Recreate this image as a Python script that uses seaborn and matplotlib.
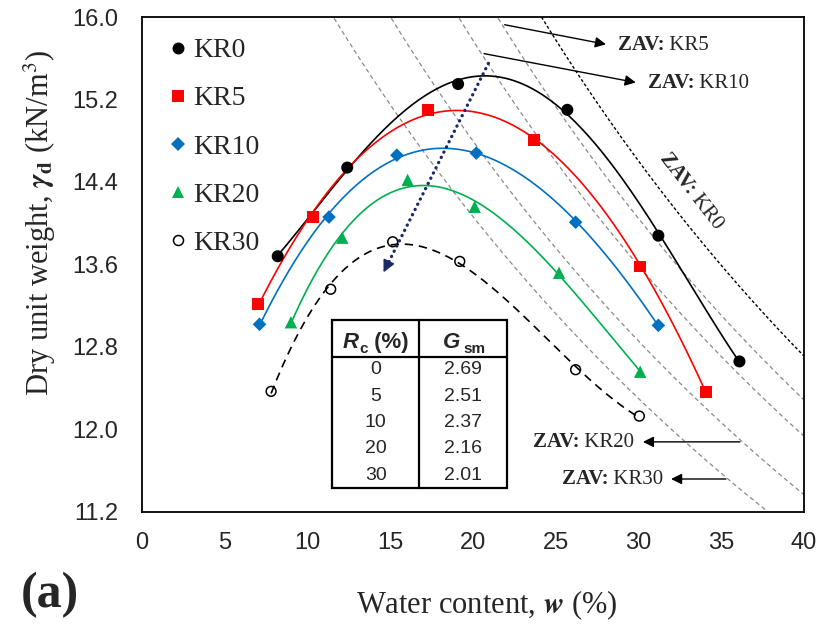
import numpy as np
import pandas as pd
import matplotlib
matplotlib.use("Agg")
import matplotlib.pyplot as plt
import seaborn as sns
from matplotlib.lines import Line2D
from matplotlib.patches import Rectangle
from matplotlib.ticker import MultipleLocator, FormatStrFormatter

# ---------------- data ----------------
series = ["KR0", "KR5", "KR10", "KR20", "KR30"]
w_KR0 = [8.2, 12.4, 19.1, 25.7, 31.2, 36.1]
g_KR0 = [13.68, 14.54, 15.35, 15.10, 13.88, 12.66]
w_KR5 = [7.0, 10.35, 17.3, 23.7, 30.1, 34.1]
g_KR5 = [13.22, 14.06, 15.10, 14.81, 13.58, 12.36]
w_KR10 = [7.1, 11.3, 15.4, 20.2, 26.2, 31.2]
g_KR10 = [13.02, 14.06, 14.66, 14.68, 14.01, 13.01]
w_KR20 = [9.0, 12.1, 16.05, 20.1, 25.2, 30.1]
g_KR20 = [13.04, 13.86, 14.42, 14.16, 13.52, 12.56]
w_KR30 = [7.8, 11.4, 15.15, 19.2, 26.2, 30.05]
g_KR30 = [12.37, 13.36, 13.82, 13.63, 12.58, 12.13]
Rc = [0, 5, 10, 20, 30]
Gsm = [2.69, 2.51, 2.37, 2.16, 2.01]
gamma_w = 9.81
x_ticks = [0, 5, 10, 15, 20, 25, 30, 35, 40]
y_ticks = [11.2, 12.0, 12.8, 13.6, 14.4, 15.2, 16.0]

W = {"KR0": w_KR0, "KR5": w_KR5, "KR10": w_KR10, "KR20": w_KR20, "KR30": w_KR30}
G = {"KR0": g_KR0, "KR5": g_KR5, "KR10": g_KR10, "KR20": g_KR20, "KR30": g_KR30}

# ---------------- styles ----------------
colors = {"KR0": "black", "KR5": "#FF0000", "KR10": "#0070C0", "KR20": "#00B050", "KR30": "black"}
markers = {"KR0": "o", "KR5": "s", "KR10": "D", "KR20": "^", "KR30": "o"}
msize = {"KR0": 75, "KR5": 72, "KR10": 48, "KR20": 80, "KR30": 50}
fit_deg = {"KR0": 4, "KR5": 3, "KR10": 3, "KR20": 3, "KR30": 3}

sns.set_style("white")
plt.rcParams["font.family"] = ["Liberation Sans", "DejaVu Sans"]
plt.rcParams["mathtext.fontset"] = "stix"

fig = plt.figure(figsize=(8.2, 6.27), dpi=100)
ax = fig.add_axes([142 / 820, 1 - 512 / 627, 662 / 820, 495 / 627])

# ZAV lines
wz = np.linspace(0, 45, 400)
for i, gs in enumerate(Gsm):
    gz = gs * gamma_w / (1 + gs * wz / 100)
    if i == 0:
        ax.plot(wz, gz, color="black", lw=1.0, ls=(0, (2.2, 1.6)), zorder=1)
    else:
        ax.plot(wz, gz, color="#8a8a8a", lw=0.9, ls=(0, (3.5, 2.5)), zorder=1)

# fitted curves
for s in series:
    x = np.array(W[s]); y = np.array(G[s])
    c = np.polyfit(x, y, fit_deg[s])
    xx = np.linspace(x.min(), x.max(), 200)
    ls = (0, (5, 3.5)) if s == "KR30" else "-"
    ax.plot(xx, np.polyval(c, xx), color=colors[s], lw=1.2, ls=ls, zorder=2)

# markers
for s in series:
    df = pd.DataFrame({"w": W[s], "g": G[s]})
    if s == "KR30":
        sns.scatterplot(data=df, x="w", y="g", ax=ax, marker="o", s=msize[s],
                        facecolors="none", edgecolor="black", linewidth=1.1, zorder=3)
    else:
        sns.scatterplot(data=df, x="w", y="g", ax=ax, marker=markers[s], s=msize[s],
                        color=colors[s], edgecolor="none", linewidth=0, zorder=3)

ax.set_xlim(0, 40)
ax.set_ylim(11.2, 16.0)
ax.set_xticks(x_ticks)
ax.set_yticks(y_ticks)
ax.yaxis.set_major_formatter(FormatStrFormatter("%.1f"))
ax.xaxis.set_minor_locator(MultipleLocator(1))
ax.yaxis.set_minor_locator(MultipleLocator(0.2))
ax.tick_params(which="major", direction="inout", length=12.5, width=1.2,
               labelsize=17, pad=8, color="black")
ax.tick_params(which="minor", direction="out", length=4.3, width=1.0, color="black")
ax.tick_params(axis="y", which="major", pad=11)
ax.set_xlabel(""); ax.set_ylabel("")
for sp in ax.spines.values():
    sp.set_linewidth(1.3)
    sp.set_color("black")

# blue dotted arrow
navy = "#1A2A66"
arr_start = (20.93, 15.55)
arr_end = (14.52, 13.50)
ax.plot([arr_start[0], 14.85], [arr_start[1], 13.605], color=navy, lw=2.4,
        ls=(0, (0.05, 1.7)), dash_capstyle="round", solid_capstyle="round", zorder=4)
ax.annotate("", xy=arr_end, xytext=(14.95, 13.64),
            arrowprops=dict(arrowstyle="-|>", color=navy, lw=1.2, mutation_scale=18), zorder=4)

# ZAV annotations
serif = ["Liberation Serif", "DejaVu Serif"]

def zav_label(x, y, name):
    t1 = ax.text(x, y, "ZAV:", fontsize=15, fontweight="bold", family=serif,
                 va="center", ha="left")
    ax.annotate(" " + name, xy=(1, 0), xycoords=t1, va="bottom", ha="left",
                fontsize=15, family=serif)

arrow_kw = dict(arrowstyle="-|>", color="black", lw=1.0, mutation_scale=16)
ax.annotate("", xy=(28.2, 15.73), xytext=(21.75, 15.93), arrowprops=arrow_kw)
zav_label(28.75, 15.73, "KR5")
ax.annotate("", xy=(30.0, 15.36), xytext=(20.5, 15.65), arrowprops=arrow_kw)
zav_label(30.55, 15.36, "KR10")
ax.annotate("", xy=(30.1, 11.88), xytext=(36.3, 11.88), arrowprops=arrow_kw)
zav_label(23.6, 11.88, "KR20")
ax.annotate("", xy=(31.8, 11.52), xytext=(35.45, 11.52), arrowprops=arrow_kw)
zav_label(25.35, 11.52, "KR30")
ax.text(33.2, 14.3, "ZAV:", fontsize=15, fontweight="bold", family=serif,
        rotation=-52, rotation_mode="anchor", ha="right", va="center")
ax.text(33.2, 14.3, " KR0", fontsize=15, family=serif,
        rotation=-52, rotation_mode="anchor", ha="left", va="center")

# table
tx0, tx1, txm = 0.2866, 0.5509, 0.4189
ty0, ty1, tym = 0.0491, 0.3879, 0.3137
ax.add_patch(Rectangle((tx0, ty0), tx1 - tx0, ty1 - ty0, transform=ax.transAxes,
                       fill=True, facecolor="white", edgecolor="black", lw=1.6, zorder=5))
ax.plot([txm, txm], [ty0, ty1], transform=ax.transAxes, color="black", lw=1.6, zorder=6)
ax.plot([tx0, tx1], [tym, tym], transform=ax.transAxes, color="black", lw=1.6, zorder=6)
row_y = [0.2869, 0.2329, 0.1804, 0.1287, 0.0747]
for i in range(len(Rc)):
    ax.text(0.3530, row_y[i], str(Rc[i]), transform=ax.transAxes, ha="center", va="center",
            fontsize=14, zorder=7)
    ax.text(0.4844, row_y[i], f"{Gsm[i]:.2f}", transform=ax.transAxes, ha="center", va="center",
            fontsize=14, zorder=7)
hb = 0.3307
r1 = ax.text(0.3036, hb, "R", transform=ax.transAxes, fontsize=16, fontweight="bold",
             style="italic", va="baseline", ha="left", zorder=7)
r2 = ax.annotate("c", xy=(1, 0), xycoords=r1, xytext=(0.5, -2), textcoords="offset points",
                 fontsize=11, fontweight="bold", va="bottom", ha="left", zorder=7)
ax.annotate(" (%)", xy=(1, 0), xycoords=(r2, r1), va="bottom", ha="left",
            fontsize=16, fontweight="bold", zorder=7)
g1 = ax.text(0.4552, hb, "G", transform=ax.transAxes, fontsize=16, fontweight="bold",
             style="italic", va="baseline", ha="left", zorder=7)
ax.annotate("sm", xy=(1, 0), xycoords=g1, xytext=(2, -2), textcoords="offset points",
            fontsize=11, fontweight="bold", va="bottom", ha="left", zorder=7)

# legend
handles = []
for s in series:
    if s == "KR30":
        h = Line2D([], [], marker="o", ls="none", markersize=7.2, markerfacecolor="none",
                   markeredgecolor="black", markeredgewidth=1.1)
    else:
        ms = {"KR0": 8.6, "KR5": 8.3, "KR10": 6.8, "KR20": 9.0}[s]
        h = Line2D([], [], marker=markers[s], ls="none", markersize=ms, color=colors[s],
                   markeredgewidth=0)
    handles.append(h)
ax.legend(handles, series, loc="upper left", bbox_to_anchor=(0.042, 0.958), frameon=False,
          prop={"family": serif, "size": 20}, handlelength=0.6, handletextpad=0.25,
          labelspacing=0.82, borderaxespad=0.0, borderpad=0.0)

# axis labels
fig.text(487 / 820, 1 - 613 / 627, r"Water content, $\mathbfit{w}$ (%)", family=serif,
         fontsize=22, ha="center", va="baseline")
fig.text(40 / 820, 1 - 223 / 627, r"Dry unit weight, $\mathbfit{\gamma}_{\mathbf{d}}$ (kN/m$^3$)",
         family=serif, fontsize=22, rotation=90, ha="center", va="center")
fig.text(21 / 820, 1 - 607 / 627, "(a)", family=serif, fontsize=36, fontweight="bold",
         ha="left", va="baseline")

fig.savefig("out.png", dpi=100)
